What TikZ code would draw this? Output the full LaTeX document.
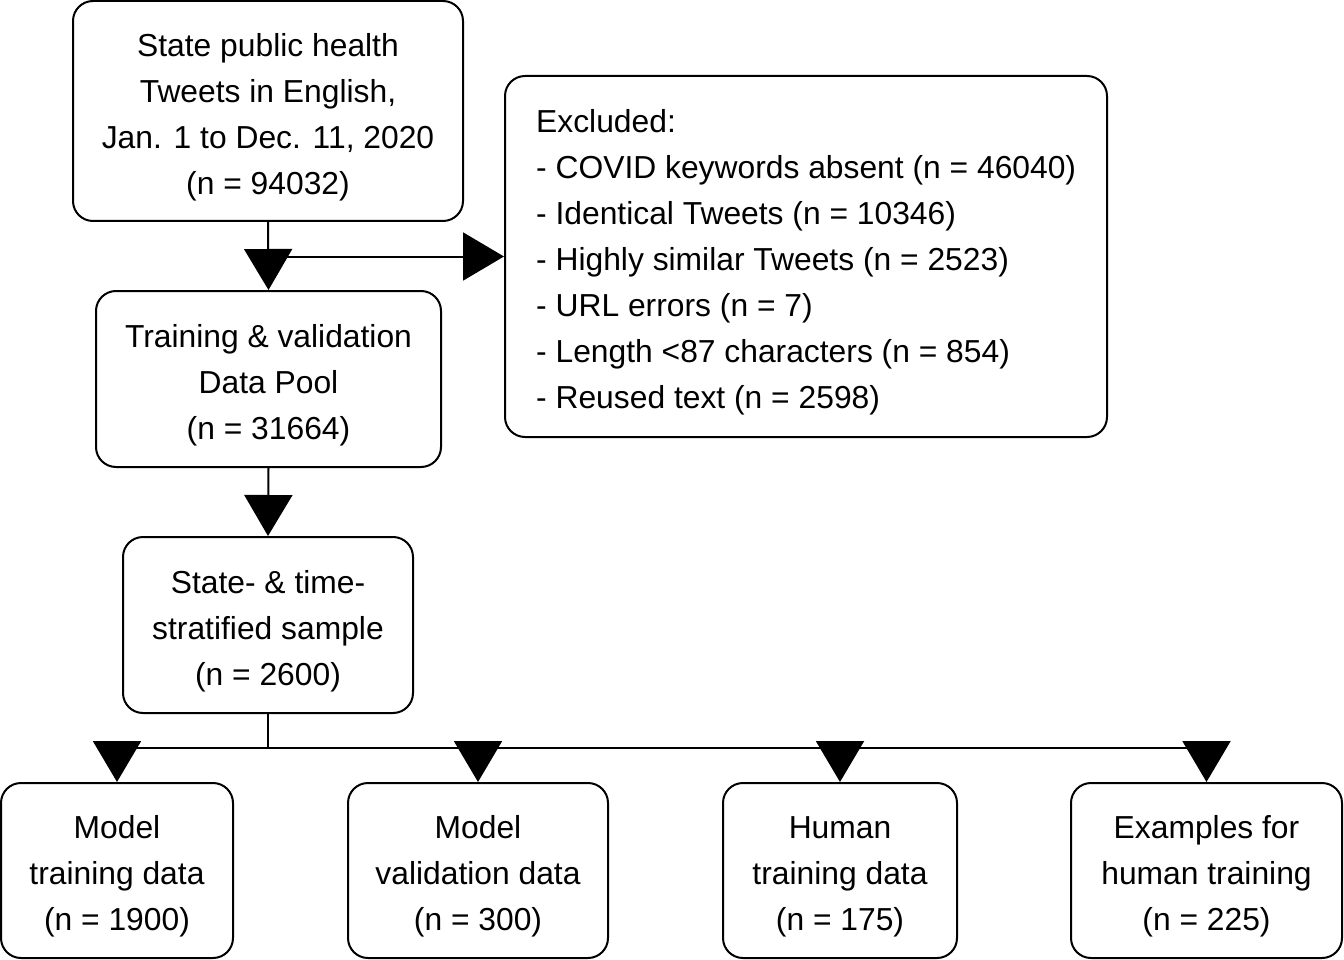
\documentclass[tikz,border=0pt]{standalone}
\usepackage{fontspec}
\setmainfont{Liberation Sans}
\usetikzlibrary{arrows.meta}
\newcommand{\dnstrut}{\rule{0pt}{35pt}}
\begin{document}
\begin{tikzpicture}[x=1pt,y=-1pt,
  box/.style={draw, line width=2pt, rounded corners=20pt, align=center, inner sep=0pt,
    font=\fontsize{31.8}{46}\selectfont},
  txt/.style={align=left, inner sep=0pt, font=\fontsize{31.8}{46}\selectfont},
  arr/.style={line width=2pt, -{Triangle[length=41pt,width=48pt]}},
  ln/.style={line width=2pt}]
\useasboundingbox (0,0) rectangle (1344,960);
\fill[white] (0,0) rectangle (1344,960);

\node[box, minimum width=390pt, minimum height=220pt] (top) at (268,111)
  {\dnstrut State public health\\Tweets in English,\\Jan. 1 to Dec. 11, 2020\\(n = 94032)};
\node[box, minimum width=602pt, minimum height=361pt] (excl) at (806,256.5) {};
\node[txt, anchor=west] (excltxt) at (536,262)
  {Excluded:\\- COVID keywords absent (n = 46040)\\- Identical Tweets (n = 10346)\\- Highly similar Tweets (n = 2523)\\- URL errors (n = 7)\\- Length <87 characters (n = 854)\\- Reused text (n = 2598)};
\node[box, minimum width=345pt, minimum height=176pt] (pool) at (268.5,379)
  {\dnstrut Training \& validation\\Data Pool\\(n = 31664)};
\node[box, minimum width=290pt, minimum height=176pt] (sample) at (268,625)
  {\dnstrut State- \& time-\\stratified sample\\(n = 2600)};
\node[box, minimum width=232pt, minimum height=175pt] (b1) at (117,870.5)
  {\dnstrut Model\\training data\\(n = 1900)};
\node[box, minimum width=260pt, minimum height=175pt] (b2) at (478,870.5)
  {\dnstrut Model\\validation data\\(n = 300)};
\node[box, minimum width=234pt, minimum height=175pt] (b3) at (840,870.5)
  {\dnstrut Human\\training data\\(n = 175)};
\node[box, minimum width=271pt, minimum height=175pt] (b4) at (1206.5,870.5)
  {\dnstrut Examples for\\human training\\(n = 225)};

\draw[arr] (top.south) -- (pool.north);
\coordinate (k) at (top.south |- excl.west);
\draw[arr] (k) -- (excl.west);
\draw[arr] (pool.south) -- (sample.north);

\coordinate (j) at (268,748);
\coordinate (jt) at (268,741);
\draw[ln] (sample.south) -- (j);
\draw[ln] (b1.north |- j) -- (b4.north |- j);
\foreach \b in {b1,b2,b3,b4}{
  \draw[arr] (\b.north |- jt) -- (\b.north);
}
\end{tikzpicture}
\end{document}
